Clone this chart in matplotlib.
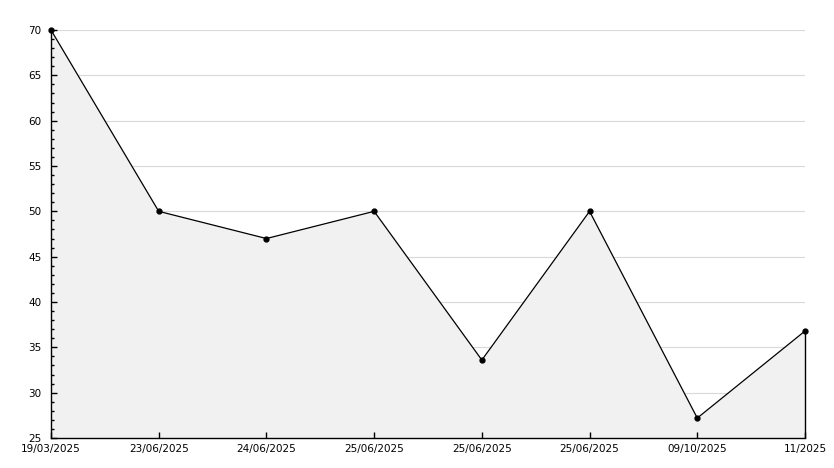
import matplotlib
matplotlib.use("Agg")
import matplotlib.pyplot as plt
from matplotlib.ticker import MultipleLocator

labels = ["19/03/2025", "23/06/2025", "24/06/2025", "25/06/2025", "25/06/2025",
          "25/06/2025", "09/10/2025", "11/2025"]
values = [70, 50, 47, 50, 33.6, 50, 27.2, 36.8]

fig = plt.figure(figsize=(8.34, 4.68), dpi=100)
ax = fig.add_axes([51/834, 30/468, (805-51)/834, (438-30)/468])
x = list(range(len(values)))
ax.set_xlim(0, len(values) - 1)
ax.set_ylim(25, 70)
ax.yaxis.set_major_locator(MultipleLocator(5))
ax.yaxis.set_minor_locator(MultipleLocator(1))
for yv in ax.get_yticks():
    if 25 < yv <= 70:
        ax.axhline(yv, color="#d9d9d9", linewidth=0.8, zorder=1)
ax.fill_between(x, values, 25, color="#f1f1f1", zorder=2, linewidth=0)
ax.plot(x, values, color="black", linewidth=0.9, marker="o", markersize=3.5, zorder=5, clip_on=False)
ax.vlines(x[-1], 25, values[-1], color="black", linewidth=1, zorder=5, clip_on=False)
ax.set_xticks(x)
ax.set_xticklabels(labels)
ax.set_axisbelow(False)
for s in ["top", "right"]:
    ax.spines[s].set_visible(False)
for s in ["left", "bottom"]:
    ax.spines[s].set_linewidth(1)
    ax.spines[s].set_zorder(4)
ax.tick_params(axis="y", which="major", direction="in", length=4, width=1, labelsize=7.5, pad=7)
ax.tick_params(axis="y", which="minor", direction="in", length=2.5, width=1)
ax.tick_params(axis="x", which="major", direction="in", length=4, width=1, labelsize=7.5, pad=4.5)
fig.savefig("out.png", dpi=100, facecolor="white")
